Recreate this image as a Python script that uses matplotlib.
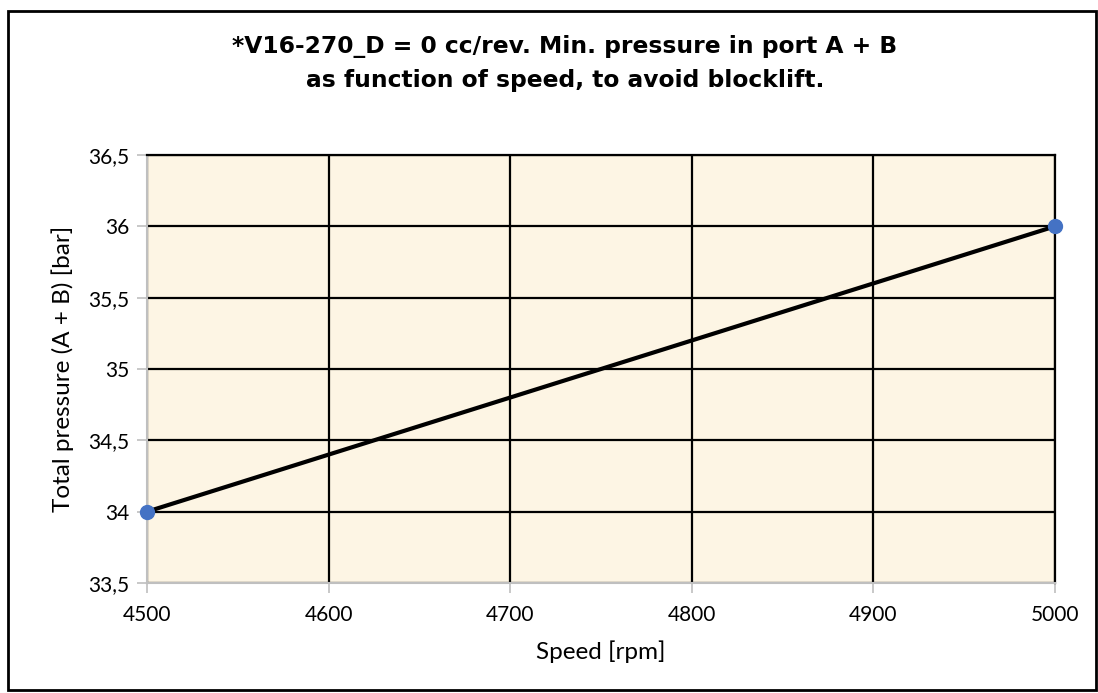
import matplotlib
matplotlib.use("Agg")
import matplotlib.pyplot as plt
from matplotlib.patches import Rectangle
from matplotlib.ticker import FuncFormatter

# Speed vs. minimum total pressure
speed_rpm = [4500, 5000]
pressure_bar = [34, 36]

x_ticks = [4500, 4600, 4700, 4800, 4900, 5000]
y_ticks = [33.5, 34, 34.5, 35, 35.5, 36, 36.5]

plt.rcParams['font.family'] = ['Lato', 'DejaVu Sans']

fig = plt.figure(figsize=(10.98, 6.93), dpi=100)
ax = fig.add_axes([147 / 1098, 1 - 583 / 693, (1055 - 147) / 1098, (583 - 155) / 693])

ax.set_facecolor('#fdf5e4')
ax.set_xlim(4500, 5000)
ax.set_ylim(33.5, 36.5)
ax.set_xticks(x_ticks)
ax.set_yticks(y_ticks)
ax.yaxis.set_major_formatter(FuncFormatter(lambda v, _: f'{v:g}'.replace('.', ',')))
ax.grid(True, color='black', linewidth=1.6)
ax.set_axisbelow(True)

for side in ['top', 'right']:
    ax.spines[side].set_color('black')
    ax.spines[side].set_linewidth(1.6)
for side in ['left', 'bottom']:
    ax.spines[side].set_color('#bfbfbf')
    ax.spines[side].set_linewidth(1.5)

ax.tick_params(axis='both', colors='#bfbfbf', length=7, width=1.2, labelsize=15,
               labelcolor='black', pad=6)
ax.tick_params(axis='x', pad=9)

ax.plot(speed_rpm, pressure_bar, color='black', linewidth=3, zorder=3)
ax.plot(speed_rpm, pressure_bar, 'o', color='#4472c4', markersize=10, zorder=4,
        clip_on=False)

ax.set_xlabel('Speed [rpm]', fontsize=17.5, labelpad=11)
ax.set_ylabel('Total pressure (A + B) [bar]', fontsize=17.5, labelpad=10)

title_font = dict(ha='center', va='center', fontsize=16.8, fontweight='bold',
                  family=['DejaVu Sans'])
fig.text(565 / 1098, 1 - 47 / 693,
         '*V16-270_D = 0 cc/rev. Min. pressure in port A + B', **title_font)
fig.text(565 / 1098, 1 - 81 / 693,
         'as function of speed, to avoid blocklift.', **title_font)

# outer frame around the whole chart
fig.patches.append(Rectangle((8 / 1098, 3 / 693), 1088 / 1098, 679 / 693,
                             transform=fig.transFigure, fill=False,
                             edgecolor='black', linewidth=2))

fig.savefig('out.png', dpi=100)
